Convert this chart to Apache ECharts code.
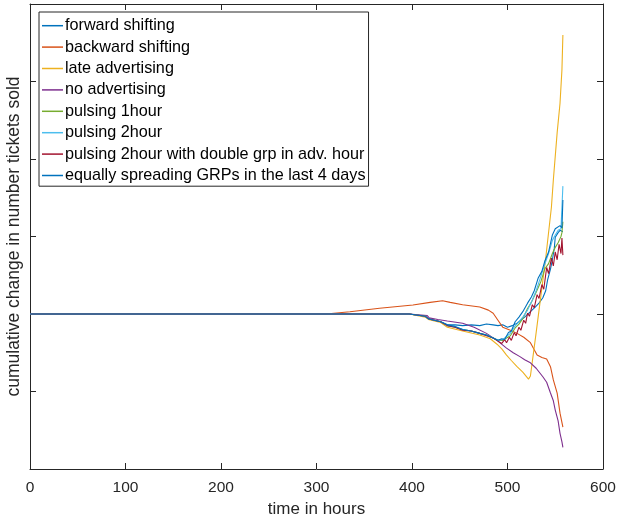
<!DOCTYPE html>
<html>
<head>
<meta charset="utf-8">
<style>
  html, body { margin: 0; padding: 0; background: #fff; }
  #chart { width: 619px; height: 519px; }
</style>
<script src="https://cdn.jsdelivr.net/npm/echarts@6/dist/echarts.min.js"></script>
</head>
<body>
<div id="chart"></div>
<script>
// Axis ranges and tick steps
const xTicks = [0, 100, 200, 300, 400, 500, 600];
const yRange = [-2, 4];

// Cumulative change per scenario, as [hour, change] pairs
const forwardShifting = [[0,0],[397,0],[399,-0.02],[414,-0.03],[417,-0.06],[420,-0.07],[430,-0.10],[437,-0.14],[445,-0.14],[453,-0.15],[462,-0.14],[471,-0.15],[478,-0.13],[485,-0.14],[490,-0.15],[495,-0.14],[500,-0.17],[505,-0.15],[510,-0.12],[518,-0.04],[524,0.03],[529,0.09],[533,0.14],[537,0.21],[540,0.30],[542,0.44],[545,0.58],[547,0.70],[549,0.85],[550,0.99],[553,1.05],[555,1.08],[557,1.06],[558,1.06]];
const backwardShifting = [[0,0],[310,0],[335,0.03],[366,0.074],[401,0.116],[419,0.15],[432,0.17],[440,0.15],[453,0.12],[471,0.09],[480,0.05],[485,0.01],[490,-0.08],[495,-0.17],[503,-0.21],[510,-0.25],[517,-0.30],[524,-0.37],[531,-0.53],[536,-0.56],[541,-0.58],[545,-0.68],[548,-0.85],[552,-1.02],[555,-1.28],[558,-1.46]];
const lateAdvertising = [[0,0],[397,0],[399,-0.02],[414,-0.04],[417,-0.07],[430,-0.11],[437,-0.17],[453,-0.22],[471,-0.27],[482,-0.32],[489,-0.39],[494,-0.45],[499,-0.53],[504,-0.60],[510,-0.68],[516,-0.75],[522,-0.84],[524,-0.80],[530,-0.24],[535,0.24],[540,0.72],[546,1.38],[548,1.73],[552,2.34],[555,2.72],[557,3.15],[558,3.6]];
const noAdvertising = [[0,0],[397,0],[399,-0.01],[416,-0.02],[418,-0.05],[427,-0.07],[437,-0.09],[453,-0.12],[465,-0.17],[478,-0.25],[489,-0.34],[499,-0.44],[506,-0.50],[513,-0.55],[518,-0.59],[524,-0.63],[530,-0.70],[537,-0.81],[541,-0.88],[545,-1.02],[548,-1.12],[550,-1.24],[553,-1.38],[555,-1.54],[557,-1.65],[558,-1.72]];
const pulsing1h = [[0,0],[397,0],[399,-0.02],[414,-0.03],[417,-0.06],[420,-0.07],[430,-0.10],[437,-0.15],[445,-0.17],[453,-0.20],[462,-0.22],[471,-0.25],[478,-0.27],[485,-0.31],[490,-0.34],[492,-0.36],[495,-0.34],[499,-0.31],[503,-0.28],[508,-0.18],[512,-0.13],[516,-0.06],[521,0.07],[525,0.15],[530,0.28],[535,0.42],[539,0.58],[543,0.65],[547,0.78],[550,0.86],[553,0.92],[556,1.00],[557,1.05],[558,1.19]];
const pulsing2h = [[0,0],[397,0],[399,-0.02],[414,-0.03],[417,-0.06],[420,-0.07],[430,-0.10],[437,-0.15],[445,-0.16],[453,-0.20],[462,-0.22],[471,-0.25],[478,-0.27],[485,-0.31],[490,-0.34],[492,-0.35],[495,-0.33],[498,-0.30],[503,-0.25],[507,-0.17],[512,-0.10],[516,-0.04],[521,0.05],[526,0.18],[530,0.30],[534,0.45],[539,0.64],[543,0.78],[547,0.95],[550,1.02],[553,1.08],[556,1.10],[557,1.08],[558,1.65]];
const pulsing2hDouble = [[0,0],[397,0],[399,-0.02],[414,-0.03],[417,-0.06],[420,-0.07],[430,-0.10],[437,-0.15],[445,-0.17],[453,-0.21],[462,-0.22],[471,-0.25],[478,-0.28],[485,-0.31],[490,-0.35],[494,-0.38],[497,-0.33],[499,-0.37],[502,-0.30],[504,-0.34],[507,-0.24],[509,-0.28],[512,-0.17],[514,-0.21],[517,-0.08],[519,-0.12],[521,0.01],[523,-0.03],[526,0.12],[528,0.08],[531,0.25],[533,0.20],[536,0.38],[538,0.32],[541,0.60],[543,0.52],[546,0.72],[548,0.62],[550,0.80],[552,0.70],[554,0.90],[556,0.78],[557,0.98],[558,0.76]];
const equalSpreading = [[0,0],[397,0],[399,-0.02],[414,-0.03],[417,-0.06],[420,-0.07],[430,-0.10],[437,-0.14],[445,-0.16],[453,-0.20],[462,-0.22],[471,-0.25],[478,-0.27],[485,-0.31],[490,-0.34],[492,-0.36],[494,-0.32],[497,-0.33],[501,-0.24],[504,-0.22],[508,-0.10],[512,-0.04],[516,0.03],[521,0.14],[525,0.22],[528,0.30],[532,0.46],[536,0.55],[539,0.68],[543,0.80],[547,1.02],[550,1.10],[552,1.12],[555,1.14],[557,1.11],[558,1.47]];

const seriesNames = [
  'forward shifting',
  'backward shifting',
  'late advertising',
  'no advertising',
  'pulsing 1hour',
  'pulsing 2hour',
  'pulsing 2hour with double grp in adv. hour',
  'equally spreading GRPs in the last 4 days'
];
const seriesData = [forwardShifting, backwardShifting, lateAdvertising, noAdvertising,
  pulsing1h, pulsing2h, pulsing2hDouble, equalSpreading];
const colors = ['#0072BD', '#D95319', '#EDB120', '#7E2F8E', '#77AC30', '#4DBEEE', '#A2142F', '#0072BD'];

const FONT = '"Liberation Sans", Arial, Helvetica, sans-serif';
const AXIS = '#262626';

const chart = echarts.init(document.getElementById('chart'), null, { renderer: 'canvas' });

const tickCommon = { show: true, inside: true, length: 6, lineStyle: { color: AXIS, width: 1 } };
const lineCommon = { show: true, onZero: false, lineStyle: { color: AXIS, width: 1 } };

chart.setOption({
  animation: false,
  backgroundColor: '#fff',
  color: colors,
  grid: { left: 30, right: 16, top: 4, bottom: 50, containLabel: false, outerBoundsMode: 'none' },
  legend: {
    orient: 'vertical',
    left: 39,
    top: 12,
    data: seriesNames,
    icon: 'rect',
    itemWidth: 21,
    itemHeight: 1.5,
    itemGap: 0,
    padding: [3, 3, 0, 3],
    backgroundColor: '#fff',
    borderColor: AXIS,
    borderWidth: 1,
    borderRadius: 0,
    textStyle: { fontFamily: FONT, fontSize: 16.2, color: '#000', lineHeight: 21.4, padding: [0, 0, 0, -3] },
    selectedMode: false
  },
  xAxis: [{
    type: 'value',
    min: xTicks[0],
    max: xTicks[xTicks.length - 1],
    interval: 100,
    name: 'time in hours',
    nameLocation: 'middle',
    nameGap: 31,
    nameTextStyle: { fontFamily: FONT, fontSize: 17, color: AXIS },
    axisLine: lineCommon,
    axisTick: tickCommon,
    axisLabel: { fontFamily: FONT, fontSize: 15.5, color: AXIS, margin: 11 },
    splitLine: { show: false }
  }, {
    type: 'value',
    position: 'top',
    min: xTicks[0],
    max: xTicks[xTicks.length - 1],
    interval: 100,
    axisLine: lineCommon,
    axisTick: tickCommon,
    axisLabel: { show: false },
    splitLine: { show: false }
  }],
  yAxis: [{
    type: 'value',
    min: yRange[0],
    max: yRange[1],
    interval: 1,
    name: 'cumulative change in number tickets sold',
    nameLocation: 'middle',
    nameGap: 7,
    nameTextStyle: { fontFamily: FONT, fontSize: 17.5, color: AXIS },
    axisLine: lineCommon,
    axisTick: tickCommon,
    axisLabel: { show: false },
    splitLine: { show: false }
  }, {
    type: 'value',
    position: 'right',
    min: yRange[0],
    max: yRange[1],
    interval: 1,
    axisLine: lineCommon,
    axisTick: tickCommon,
    axisLabel: { show: false },
    splitLine: { show: false }
  }],
  series: seriesNames.map((name, i) => ({
    name: name,
    type: 'line',
    data: seriesData[i],
    xAxisIndex: 0,
    yAxisIndex: 0,
    symbol: 'none',
    smooth: false,
    lineStyle: { width: 1.1, color: colors[i] },
    itemStyle: { color: colors[i] },
    emphasis: { disabled: true }
  }))
});
</script>
</body>
</html>
